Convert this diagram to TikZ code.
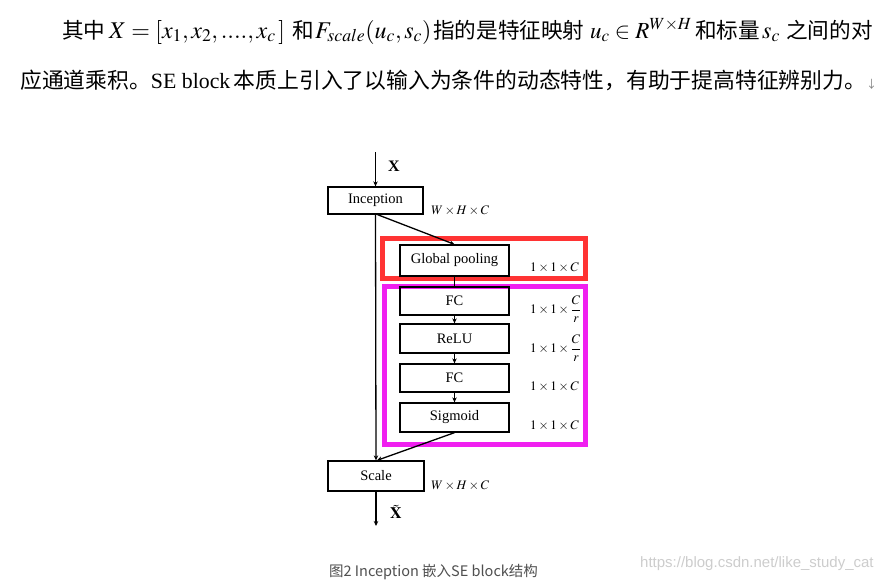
\documentclass[tikz,border=0pt]{standalone}
\usepackage{mathptmx}
\usepackage[no-math]{fontspec}
\setmainfont{Liberation Serif}
\newfontfamily\cjk{Noto Sans CJK SC}
\newfontfamily\wmfont{Liberation Sans}
\usetikzlibrary{arrows.meta}
\definecolor{framered}{RGB}{255,51,51}
\definecolor{framemag}{RGB}{240,32,240}
\definecolor{capgray}{RGB}{80,80,80}
\definecolor{wmgray}{RGB}{205,205,205}
\begin{document}
\begin{tikzpicture}[x=1pt,y=-1pt,
  blk/.style={draw,line width=1.3pt,minimum width=95pt,minimum height=27pt,inner sep=0pt,font=\fontsize{14.5}{14.5}\selectfont},
  sblk/.style={blk,minimum width=109pt,minimum height=28pt},
  dimlab/.style={anchor=west,font=\fontsize{13}{13}\selectfont,inner sep=0pt},
  arr/.style={line width=1.3pt,-{Stealth[length=5pt,width=4.5pt]}},
  ln/.style={line width=1.3pt},
  cjktext/.style={anchor=base west,inner sep=0pt,font=\fontsize{21.6}{21.6}\selectfont\cjk},
  mathtext/.style={anchor=base west,inner sep=0pt,font=\fontsize{24}{24}\selectfont},
  bodytext/.style={anchor=base west,inner sep=0pt,font=\fontsize{21.8}{21.8}\selectfont}]
\useasboundingbox (0,0) rectangle (895,581);
\fill[white] (0,0) rectangle (895,581);
% body text, line 1
\node[cjktext] (t1) at (62,38) {其中};
\node[mathtext] (m1) at (109,38) {$X=[x_1,x_2,....,x_c\,]$};
\node[cjktext] (t2) at (292,38) {和};
\node[mathtext] (m2) at (315,38) {$F_{scale}(u_c,s_c)$};
\node[cjktext] (t3) at (433,38) {指的是特征映射};
\node[mathtext,font=\fontsize{23}{23}\selectfont] (m3) at (590,38) {$u_c\in R^{W\times H}$};
\node[cjktext] (t4) at (695,38) {和标量};
\node[mathtext] (m4) at (762,38) {$s_c$};
\node[cjktext] (t5) at (786,38) {之间的对};
% body text, line 2
\node[bodytext] (l2) at (20,88) {{\cjk 应通道乘积。}SE block\,{\cjk 本质上引入了以输入为条件的动态特性，有助于提高特征辨别力。}{\fontsize{11}{11}\selectfont\color{gray}\cjk ↓}};
% frames
\draw[framered,line width=5pt] (382.5,238.5) rectangle (585.5,278.5);
\draw[framemag,line width=5pt] (384.5,286.5) rectangle (585.5,444.5);
% boxes
\node[blk] (inc) at (375.5,200.5) {Inception};
\node[sblk,minimum height=31pt] (gp) at (454.5,260.5) {Global pooling};
\node[sblk] (fc1) at (454.5,301) {FC};
\node[sblk,minimum height=29pt] (relu) at (454.5,338.5) {ReLU};
\node[sblk] (fc2) at (454.5,378) {FC};
\node[sblk,minimum height=29pt] (sig) at (454.5,417.5) {Sigmoid};
\node[blk,minimum width=96pt,minimum height=30pt] (sc) at (376,476) {Scale};
% connectors
\coordinate (in) at (375.5,152);
\coordinate (out) at (376,526);
\draw[arr] (in) -- (inc.north);
\node[font=\fontsize{16}{16}\selectfont\bfseries] (xlab) at (394,166) {X};
\draw[arr] (inc.south) -- (sc.north);
\draw[arr] ([xshift=2pt]inc.south) -- (gp.north);
\draw[ln] (gp.south) -- (fc1.north);
\draw[arr] (fc1.south) -- (relu.north);
\draw[arr] (relu.south) -- (fc2.north);
\draw[arr] (fc2.south) -- (sig.north);
\draw[arr] (sig.south) -- ([xshift=1pt]sc.north);
\draw[arr] (sc.south) -- (out);
\node[font=\fontsize{16}{16}\selectfont,inner sep=0pt] (xtl) at (396,512) {$\tilde{\mathbf{X}}$};
% dimension labels
\node[dimlab] (d1) at (431,211) {$W\times H\times C$};
\node[dimlab] (d2) at (530,268) {$1\times 1\times C$};
\node[dimlab] (d3) at (530,309) {$1\times 1\times {\displaystyle\frac{C}{r}}$};
\node[dimlab] (d4) at (530,348) {$1\times 1\times {\displaystyle\frac{C}{r}}$};
\node[dimlab] (d5) at (530,387) {$1\times 1\times C$};
\node[dimlab] (d6) at (530,426) {$1\times 1\times C$};
\node[dimlab] (d7) at (431,486) {$W\times H\times C$};
% caption and watermark
\node[anchor=west,inner sep=0pt,text=capgray,font=\fontsize{14.5}{14.5}\selectfont\cjk] (cap) at (329,572) {图2 Inception 嵌入SE block结构};
\node[anchor=west,inner sep=0pt,text=wmgray,font=\fontsize{15}{15}\selectfont\wmfont] (wm) at (640,564) {https://blog.csdn.net/like\_study\_cat};
\end{tikzpicture}
\end{document}
